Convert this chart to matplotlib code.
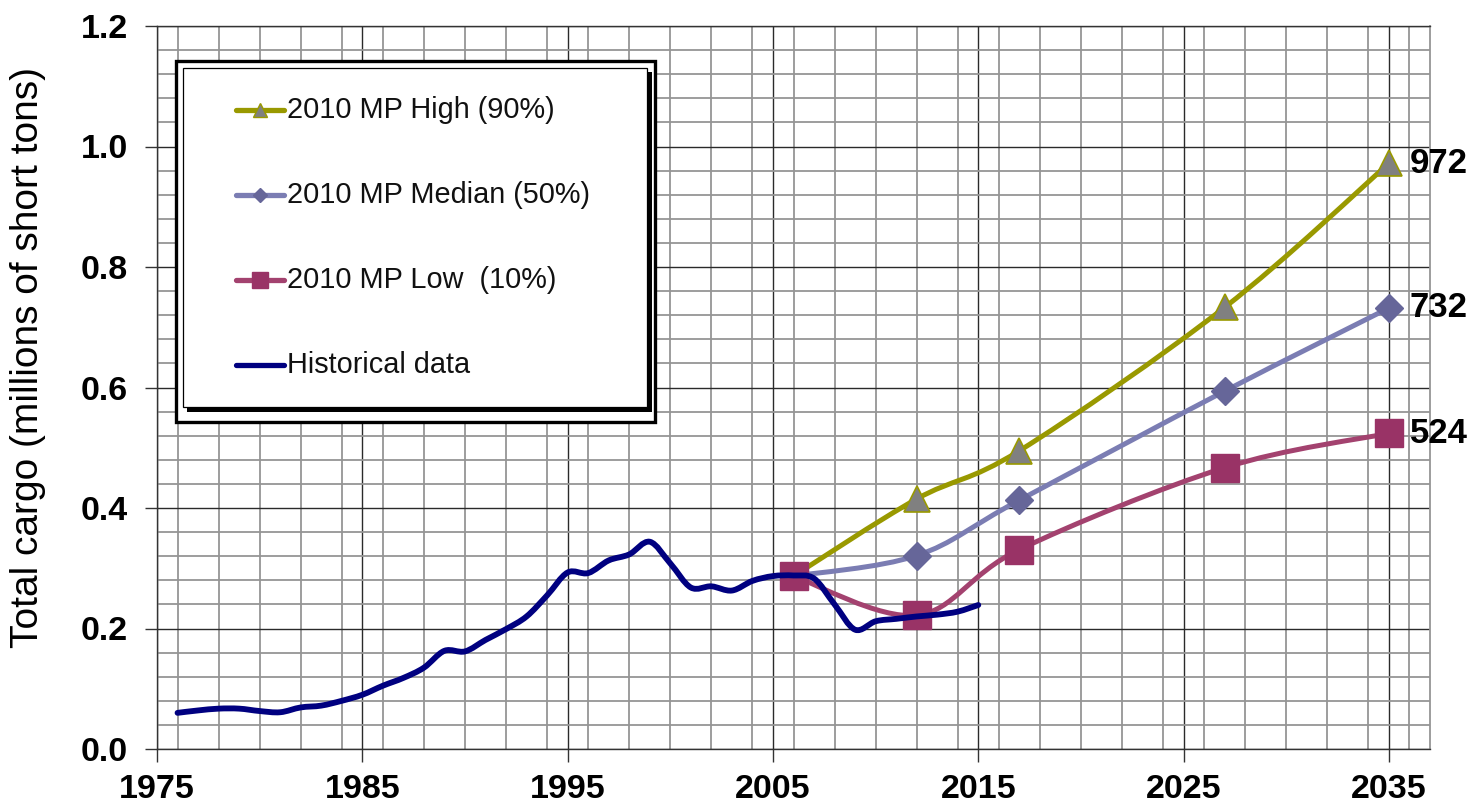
import matplotlib
matplotlib.use("Agg")
import matplotlib.pyplot as plt
from matplotlib.path import Path
from matplotlib.patches import PathPatch, Rectangle
from matplotlib.lines import Line2D
from matplotlib.ticker import MultipleLocator
import numpy as np

plt.rcParams['font.family'] = ['Liberation Sans', 'DejaVu Sans']

# ---------------- data ----------------
hist_years = list(range(1976, 2016))
hist_values = [0.060, 0.064, 0.067, 0.067, 0.063, 0.061, 0.069, 0.072, 0.080, 0.090,
               0.105, 0.118, 0.135, 0.163, 0.162, 0.181, 0.199, 0.220, 0.255, 0.293,
               0.292, 0.313, 0.323, 0.344, 0.308, 0.268, 0.270, 0.263, 0.279, 0.287,
               0.288, 0.283, 0.240, 0.198, 0.212, 0.216, 0.220, 0.223, 0.228, 0.239]

proj_years = [2006, 2012, 2017, 2027, 2035]
high_values = [0.287, 0.415, 0.495, 0.733, 0.972]
median_values = [0.287, 0.321, 0.413, 0.594, 0.732]
low_values = [0.287, 0.222, 0.331, 0.467, 0.524]

series_labels = ["2010 MP High (90%)", "2010 MP Median (50%)", "2010 MP Low  (10%)", "Historical data"]
end_labels = ["972", "732", "524"]

x_ticks = [1975, 1985, 1995, 2005, 2015, 2025, 2035]
y_ticks = [0.0, 0.2, 0.4, 0.6, 0.8, 1.0, 1.2]
y_label = "Total cargo (millions of short tons)"

# ---------------- style ----------------
C_HIGH = "#999900"
C_HIGH_MK = "#808080"
C_MED = "#7b7db3"
C_MED_MK = "#666699"
C_LOW = "#a3426f"
C_LOW_MK = "#993366"
C_HIST = "#000080"

W, H = 1480, 808
fig = plt.figure(figsize=(W / 100, H / 100), dpi=100)
ax = fig.add_axes([157 / W, 1 - 749 / H, (1430 - 157) / W, (749 - 26) / H])


def smooth_path(xs, ys):
    """Excel-like smoothed line: cubic Bezier segments through the data points."""
    pts = np.column_stack([xs, ys]).astype(float)
    n = len(pts)
    verts = [pts[0]]
    codes = [Path.MOVETO]
    for i in range(n - 1):
        p0 = pts[i - 1] if i > 0 else pts[i]
        p1 = pts[i]
        p2 = pts[i + 1]
        p3 = pts[i + 2] if i + 2 < n else pts[i + 1]
        c1 = p1 + (p2 - p0) / 6.0
        c2 = p2 - (p3 - p1) / 6.0
        verts += [c1, c2, p2]
        codes += [Path.CURVE4] * 3
    return Path(verts, codes)


def draw_series(xs, ys, color, lw, z):
    patch = PathPatch(smooth_path(xs, ys), fill=False, edgecolor=color, lw=lw,
                      capstyle='round', joinstyle='round', zorder=z)
    ax.add_patch(patch)


ax.set_xlim(1975, 2037)
ax.set_ylim(0, 1.2)

# grid
ax.xaxis.set_minor_locator(MultipleLocator(2))
ax.yaxis.set_minor_locator(MultipleLocator(0.04))
ax.set_xticks(x_ticks)
ax.set_yticks(y_ticks)
ax.set_xticklabels([str(v) for v in x_ticks])
ax.set_yticklabels([f"{v:.1f}" for v in y_ticks])
ax.grid(which='minor', color='#959595', lw=1.3, zorder=0)
ax.grid(which='major', color='#2a2a2a', lw=1.0, zorder=0.5)
ax.set_axisbelow(True)
ax.tick_params(which='minor', length=0)
ax.tick_params(which='major', length=9, width=1.0, color='#333333', labelsize=24.5)
for lab in ax.get_xticklabels() + ax.get_yticklabels():
    lab.set_fontweight('bold')
ax.tick_params(axis='x', pad=9)
ax.tick_params(axis='y', pad=12)

for s in ['left', 'bottom', 'top']:
    ax.spines[s].set_color('#333333')
    ax.spines[s].set_linewidth(1.0)
ax.spines['right'].set_color('#959595')
ax.spines['right'].set_linewidth(1.3)

ax.set_ylabel(y_label, fontsize=28)
ax.yaxis.set_label_coords(-(157 - 28) / (1430 - 157), (749 - 358) / (749 - 26))
ax.yaxis.label.set_verticalalignment('center')

# series
draw_series(proj_years, high_values, C_HIGH, 3.6, 3)
ax.plot(proj_years, high_values, ls='none', marker='^', ms=18.5, mfc=C_HIGH_MK,
        mec=C_HIGH, mew=1.2, zorder=4)
draw_series(proj_years, median_values, C_MED, 3.6, 5)
ax.plot(proj_years, median_values, ls='none', marker='D', ms=14, mfc=C_MED_MK,
        mec=C_MED_MK, zorder=6)
draw_series(proj_years, low_values, C_LOW, 3.6, 7)
ax.plot(proj_years, low_values, ls='none', marker='s', ms=19.5, mfc=C_LOW_MK,
        mec=C_LOW_MK, zorder=8)
draw_series(hist_years, hist_values, C_HIST, 4.2, 9)

# end labels
for vals, txt in zip([high_values, median_values, low_values], end_labels):
    ax.annotate(txt, xy=(proj_years[-1], vals[-1]), xytext=(15, 0),
                textcoords='offset points', ha='left', va='center',
                fontsize=25, fontweight='bold', annotation_clip=False, zorder=10)

# ---------------- legend (double-bordered box) ----------------
def fx(px):
    return px / W


def fy(py):
    return 1 - py / H


outer = Rectangle((fx(176), fy(422)), fx(655) - fx(176), fy(61) - fy(422),
                  transform=fig.transFigure, facecolor='white', edgecolor='black',
                  lw=2.4, zorder=20)
shadow = Rectangle((fx(187), fy(412)), fx(652) - fx(187), fy(72) - fy(412),
                   transform=fig.transFigure, facecolor='black', edgecolor='black',
                   lw=0, zorder=21)
inner = Rectangle((fx(183), fy(407)), fx(647) - fx(183), fy(68) - fy(407),
                  transform=fig.transFigure, facecolor='white', edgecolor='black',
                  lw=0.9, zorder=22)
for p in (outer, shadow, inner):
    fig.patches.append(p)

leg_specs = [
    (C_HIGH, '^', 10, C_HIGH_MK, C_HIGH),
    (C_MED, 'D', 7, C_MED_MK, C_MED_MK),
    (C_LOW, 's', 11, C_LOW_MK, C_LOW_MK),
    (C_HIST, None, 0, None, None),
]
row_y = [110, 195, 280, 365]
for (col, mk, ms, mfc, mec), lab, ry in zip(leg_specs, series_labels, row_y):
    ln = Line2D([fx(236), fx(284)], [fy(ry), fy(ry)], transform=fig.transFigure,
                color=col, lw=3.8, solid_capstyle='round', zorder=23)
    fig.lines.append(ln)
    if mk is not None:
        m = Line2D([fx(260)], [fy(ry)], transform=fig.transFigure, ls='none',
                   marker=mk, ms=ms, mfc=mfc, mec=mec, zorder=24)
        fig.lines.append(m)
    fig.text(fx(287), fy(ry), lab, fontsize=20.8, ha='left', va='center',
             color='#111111', zorder=25)

fig.savefig("out.png", dpi=100)
